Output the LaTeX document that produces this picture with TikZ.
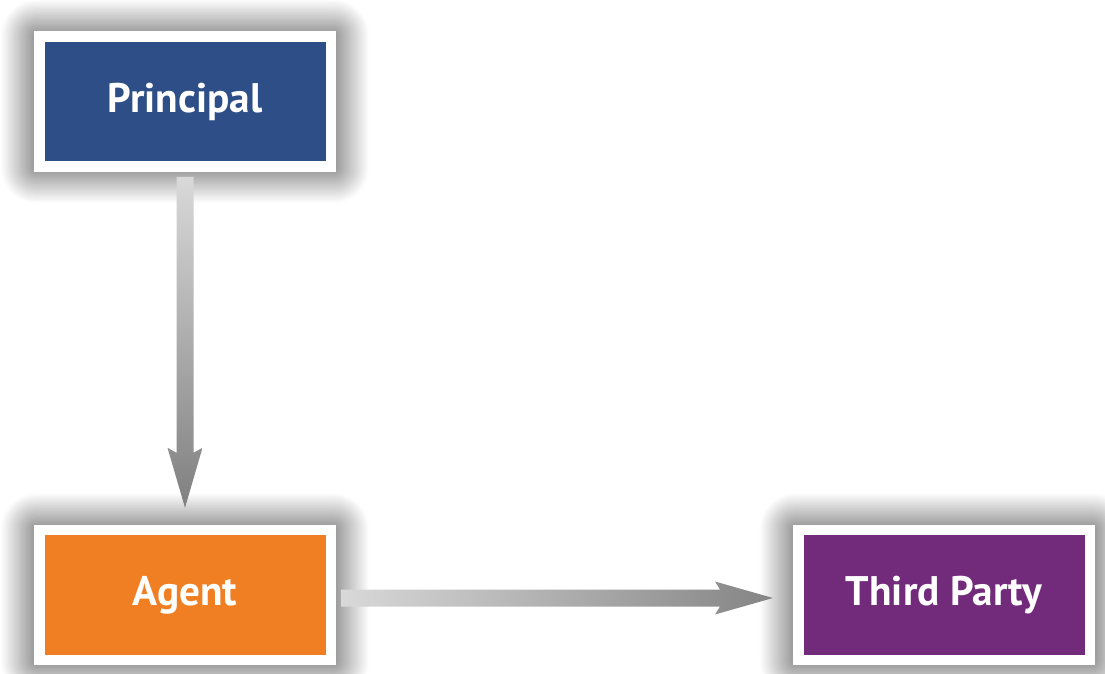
\documentclass[tikz,border=0pt]{standalone}
\usepackage{fontspec}
\setmainfont{PT Sans}
\usetikzlibrary{calc,shadows.blur}
\definecolor{prinblue}{RGB}{46,78,135}
\definecolor{agentorange}{RGB}{239,127,34}
\definecolor{thirdpurple}{RGB}{114,42,123}

\begin{document}
\begin{tikzpicture}[
	box/.style={draw=white,line width=0.21cm,minimum width=5.83cm,minimum height=2.6cm,
		text=white,font=\fontsize{23.5}{27}\selectfont\bfseries,
		blur shadow={shadow xshift=0cm,shadow yshift=0cm,shadow blur radius=0.7cm,shadow blur steps=30,shadow opacity=85,shadow scale=1.02}}]
			\useasboundingbox (0,0) rectangle (22.1,-13.48);
			\node[box,fill=prinblue] (prin) at (3.70,-2.03) {Principal};
			\node[box,fill=agentorange] (agent) at (3.70,-11.9) {Agent};
			\node[box,fill=thirdpurple] (third) at (18.88,-11.9) {Third Party};
			% principal to agent
			\coordinate (vtip) at ($(agent.north)+(0,0.34)$);
			\shade[top color=gray!30,bottom color=black!50] ($(prin.south)+(-0.17,-0.1)$)--($(vtip)+(-0.17,1.1)$)--($(vtip)+(-0.35,1.2)$)--(vtip)--($(vtip)+(0.35,1.2)$)--($(vtip)+(0.17,1.1)$)--($(prin.south)+(0.17,-0.1)$)--cycle;
			% agent to third party
			\coordinate (htip) at ($(third.west)+(-0.4,-0.06)$);
			\shade[left color=gray!30,right color=black!48] ($(agent.east)+(0.1,0.11)$)--($(htip)+(-1.06,0.17)$)--($(htip)+(-1.16,0.33)$)--(htip)--($(htip)+(-1.16,-0.33)$)--($(htip)+(-1.06,-0.17)$)--($(agent.east)+(0.1,-0.23)$)--cycle;
		\end{tikzpicture}
\end{document}
